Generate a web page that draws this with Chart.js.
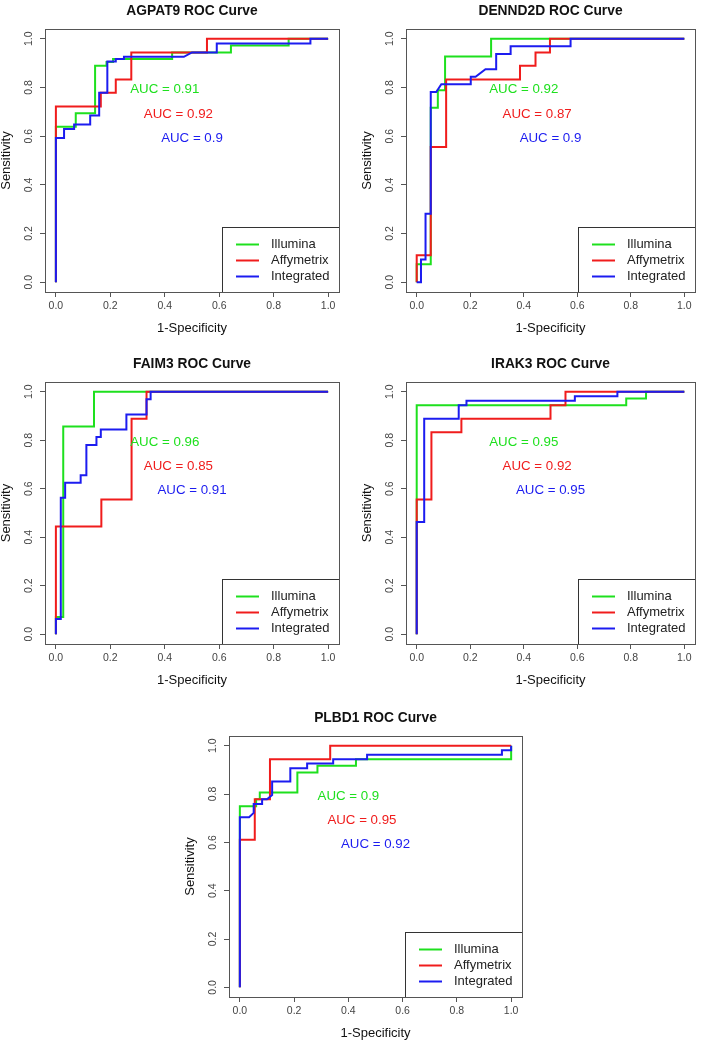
<!DOCTYPE html>
<html>
<head>
<meta charset="utf-8">
<script src="https://cdn.jsdelivr.net/npm/chart.js@4.4.1/dist/chart.umd.min.js"></script>
<style>
  html, body { margin: 0; padding: 0; background: #fff; width: 701px; height: 1049px; overflow: hidden; position: relative; }
  canvas { position: absolute; }
</style>
</head>
<body>
<script>
// ---- data ----
const genes = ['AGPAT9', 'DENND2D', 'FAIM3', 'IRAK3', 'PLBD1'];
const seriesNames = ['Illumina', 'Affymetrix', 'Integrated'];
const axisTicks = [0, 0.2, 0.4, 0.6, 0.8, 1.0];

const aucIllumina   = [0.91, 0.92, 0.96, 0.95, 0.9];
const aucAffymetrix = [0.92, 0.87, 0.85, 0.92, 0.95];
const aucIntegrated = [0.9, 0.9, 0.91, 0.95, 0.92];

// AGPAT9
const agpat9IlluminaFpr = [0, 0, 0.073, 0.073, 0.144, 0.144, 0.186, 0.186, 0.21, 0.21, 0.427, 0.427, 0.643, 0.643, 0.855, 0.855, 1];
const agpat9IlluminaTpr = [0, 0.639, 0.639, 0.694, 0.694, 0.889, 0.889, 0.905, 0.905, 0.917, 0.917, 0.944, 0.944, 0.972, 0.972, 1, 1];
const agpat9AffyFpr = [0, 0, 0.165, 0.165, 0.22, 0.22, 0.277, 0.277, 0.555, 0.555, 1];
const agpat9AffyTpr = [0, 0.722, 0.722, 0.778, 0.778, 0.833, 0.833, 0.944, 0.944, 1, 1];
const agpat9IntegFpr = [0, 0, 0.03, 0.03, 0.067, 0.067, 0.126, 0.126, 0.159, 0.159, 0.189, 0.189, 0.22, 0.22, 0.25, 0.25, 0.47, 0.5, 0.591, 0.591, 0.935, 0.935, 1];
const agpat9IntegTpr = [0, 0.593, 0.593, 0.63, 0.63, 0.648, 0.648, 0.685, 0.685, 0.778, 0.778, 0.907, 0.907, 0.917, 0.917, 0.926, 0.926, 0.944, 0.944, 0.981, 0.981, 1, 1];

// DENND2D
const dennd2dIlluminaFpr = [0, 0, 0.0525, 0.0525, 0.079, 0.079, 0.106, 0.106, 0.278, 0.278, 1];
const dennd2dIlluminaTpr = [0, 0.074, 0.074, 0.717, 0.717, 0.789, 0.789, 0.927, 0.927, 1, 1];
const dennd2dAffyFpr = [0, 0, 0.0525, 0.0525, 0.11, 0.11, 0.386, 0.386, 0.444, 0.444, 0.498, 0.498, 1];
const dennd2dAffyTpr = [0, 0.111, 0.111, 0.556, 0.556, 0.833, 0.833, 0.889, 0.889, 0.944, 0.944, 1, 1];
const dennd2dIntegFpr = [0, 0.016, 0.016, 0.033, 0.033, 0.0525, 0.0525, 0.073, 0.092, 0.202, 0.202, 0.22, 0.257, 0.297, 0.297, 0.351, 0.351, 0.575, 0.575, 1];
const dennd2dIntegTpr = [0, 0, 0.094, 0.094, 0.281, 0.281, 0.781, 0.781, 0.813, 0.813, 0.844, 0.844, 0.875, 0.875, 0.938, 0.938, 0.969, 0.969, 1, 1];

// FAIM3
const faim3IlluminaFpr = [0, 0, 0.027, 0.027, 0.14, 0.14, 1];
const faim3IlluminaTpr = [0, 0.071, 0.071, 0.857, 0.857, 1, 1];
const faim3AffyFpr = [0, 0, 0.167, 0.167, 0.278, 0.278, 0.333, 0.333, 1];
const faim3AffyTpr = [0, 0.444, 0.444, 0.556, 0.556, 0.889, 0.889, 1, 1];
const faim3IntegFpr = [0, 0, 0.018, 0.018, 0.034, 0.034, 0.091, 0.091, 0.112, 0.112, 0.149, 0.149, 0.165, 0.165, 0.259, 0.259, 0.333, 0.333, 0.348, 0.348, 1];
const faim3IntegTpr = [0, 0.063, 0.063, 0.563, 0.563, 0.625, 0.625, 0.656, 0.656, 0.781, 0.781, 0.813, 0.813, 0.844, 0.844, 0.906, 0.906, 0.969, 0.969, 1, 1];

// IRAK3
const irak3IlluminaFpr = [0, 0, 0.783, 0.783, 0.857, 0.857, 1];
const irak3IlluminaTpr = [0, 0.944, 0.944, 0.972, 0.972, 1, 1];
const irak3AffyFpr = [0, 0, 0.055, 0.055, 0.167, 0.167, 0.5, 0.5, 0.556, 0.556, 1];
const irak3AffyTpr = [0, 0.556, 0.556, 0.833, 0.833, 0.889, 0.889, 0.944, 0.944, 1, 1];
const irak3IntegFpr = [0, 0, 0.028, 0.028, 0.157, 0.157, 0.186, 0.186, 0.591, 0.591, 0.75, 0.75, 1];
const irak3IntegTpr = [0, 0.463, 0.463, 0.889, 0.889, 0.944, 0.944, 0.963, 0.963, 0.981, 0.981, 1, 1];

// PLBD1
const plbd1IlluminaFpr = [0, 0, 0.06, 0.06, 0.0735, 0.0735, 0.212, 0.212, 0.286, 0.286, 0.428, 0.428, 1, 1];
const plbd1IlluminaTpr = [0, 0.75, 0.75, 0.778, 0.778, 0.806, 0.806, 0.889, 0.889, 0.917, 0.917, 0.944, 0.944, 1];
const plbd1AffyFpr = [0, 0, 0.055, 0.055, 0.111, 0.111, 0.333, 0.333, 1];
const plbd1AffyTpr = [0, 0.611, 0.611, 0.778, 0.778, 0.944, 0.944, 1, 1];
const plbd1IntegFpr = [0, 0, 0.034, 0.051, 0.051, 0.082, 0.082, 0.1, 0.119, 0.119, 0.186, 0.186, 0.248, 0.248, 0.344, 0.344, 0.469, 0.469, 0.966, 0.966, 1, 1];
const plbd1IntegTpr = [0, 0.704, 0.704, 0.722, 0.759, 0.759, 0.778, 0.778, 0.796, 0.852, 0.852, 0.907, 0.907, 0.926, 0.926, 0.944, 0.944, 0.963, 0.963, 0.981, 0.981, 1];

const curves = [
    [[agpat9IlluminaFpr, agpat9IlluminaTpr], [agpat9AffyFpr, agpat9AffyTpr], [agpat9IntegFpr, agpat9IntegTpr]],
    [[dennd2dIlluminaFpr, dennd2dIlluminaTpr], [dennd2dAffyFpr, dennd2dAffyTpr], [dennd2dIntegFpr, dennd2dIntegTpr]],
    [[faim3IlluminaFpr, faim3IlluminaTpr], [faim3AffyFpr, faim3AffyTpr], [faim3IntegFpr, faim3IntegTpr]],
    [[irak3IlluminaFpr, irak3IlluminaTpr], [irak3AffyFpr, irak3AffyTpr], [irak3IntegFpr, irak3IntegTpr]],
    [[plbd1IlluminaFpr, plbd1IlluminaTpr], [plbd1AffyFpr, plbd1AffyTpr], [plbd1IntegFpr, plbd1IntegTpr]]
];

// ---- styling / layout ----
const FONT = '"Liberation Sans", Arial, sans-serif';
const seriesColors = ['#1ee01e', '#f01c1c', '#1c1cf0'];
const aucPosX = [0.4, 0.45, 0.5];
const aucPosY = [0.8, 0.7, 0.6];

// plot-box rectangles (page pixels) of the five panels
const panelBoxes = [
    { l: 45,  t: 29,  r: 339, b: 292 },
    { l: 406, t: 29,  r: 695, b: 292 },
    { l: 45,  t: 382, r: 339, b: 644 },
    { l: 406, t: 382, r: 695, b: 644 },
    { l: 229, t: 736, r: 522, b: 997 }
];
const M = { l: 50, t: 30, r: 6, b: 50 };

// box, AUC labels and legend, drawn the way base R does them
const rocExtras = {
    id: 'rocExtras',
    afterDatasetsDraw(chart, args, opts) {
        const { ctx, chartArea: a, scales: { x, y } } = chart;
        const L = Math.round(a.left), T = Math.round(a.top), R = Math.round(a.right), B = Math.round(a.bottom);
        ctx.save();

        // AUC texts
        ctx.font = '13.3px ' + FONT;
        ctx.textAlign = 'center';
        ctx.textBaseline = 'middle';
        opts.aucs.forEach((v, k) => {
            ctx.fillStyle = seriesColors[k];
            ctx.fillText('AUC = ' + v, x.getPixelForValue(aucPosX[k]), y.getPixelForValue(aucPosY[k]) + 2);
        });

        // legend (bottom right)
        ctx.font = '13px ' + FONT;
        const maxW = Math.max(...seriesNames.map(s => ctx.measureText(s).width));
        const lw = Math.round(49 + maxW + 9), lh = 65;
        const lx = R - lw, ly = B - lh;
        ctx.fillStyle = '#fff';
        ctx.fillRect(lx, ly, lw, lh);
        ctx.strokeStyle = '#333';
        ctx.lineWidth = 1;
        ctx.strokeRect(lx + 0.5, ly + 0.5, lw, lh);
        ctx.textAlign = 'left';
        seriesNames.forEach((name, k) => {
            const yy = ly + 17.5 + k * 16;
            ctx.strokeStyle = seriesColors[k];
            ctx.lineWidth = 2;
            ctx.beginPath();
            ctx.moveTo(lx + 14, yy);
            ctx.lineTo(lx + 37, yy);
            ctx.stroke();
            ctx.fillStyle = '#222';
            ctx.fillText(name, lx + 49, yy);
        });

        // plot box
        ctx.strokeStyle = '#555';
        ctx.lineWidth = 1;
        ctx.strokeRect(L + 0.5, T + 0.5, R - L, B - T);
        ctx.restore();
    }
};

function axisOpts(isY, title) {
    return {
        type: 'linear',
        min: -0.04,
        max: 1.04,
        afterBuildTicks: s => { s.ticks = axisTicks.map(v => ({ value: v })); },
        afterFit: s => { if (isY) s.width = M.l; else s.height = M.b; },
        grid: { drawOnChartArea: false, drawTicks: true, tickLength: 5, color: '#555' },
        border: { display: false },
        ticks: {
            color: '#444',
            font: { family: FONT, size: 10.5 },
            padding: isY ? 3.5 : 3,
            autoSkip: false,
            minRotation: isY ? 90 : 0,
            maxRotation: isY ? 90 : 0,
            crossAlign: isY ? 'center' : 'near',
            callback: v => Number(v).toFixed(1)
        },
        title: {
            display: true,
            text: title,
            color: '#111',
            font: { family: FONT, size: 13 },
            padding: isY ? { top: 3.6, bottom: 0 } : { top: 0, bottom: 5.5 }
        }
    };
}

genes.forEach((gene, i) => {
    const box = panelBoxes[i];
    const cv = document.createElement('canvas');
    cv.width = box.r - box.l + M.l + M.r;
    cv.height = box.b - box.t + M.t + M.b;
    cv.style.left = (box.l - M.l) + 'px';
    cv.style.top = (box.t - M.t) + 'px';
    document.body.appendChild(cv);

    const aucs = [aucIllumina[i], aucAffymetrix[i], aucIntegrated[i]];

    new Chart(cv, {
        type: 'scatter',
        data: {
            datasets: curves[i].map(([fpr, tpr], k) => ({
                label: seriesNames[k],
                data: fpr.map((xv, j) => ({ x: xv, y: tpr[j] })),
                showLine: true,
                borderColor: seriesColors[k],
                backgroundColor: seriesColors[k],
                borderWidth: 2,
                pointRadius: 0,
                pointHoverRadius: 0,
                tension: 0,
                order: 3 - k
            }))
        },
        options: {
            responsive: false,
            animation: false,
            events: [],
            layout: { padding: { top: 0, right: M.r, bottom: 0, left: 0 } },
            plugins: {
                legend: { display: false },
                tooltip: { enabled: false },
                title: {
                    display: true,
                    text: gene + ' ROC Curve',
                    fullSize: false,
                    color: '#111',
                    font: { family: FONT, size: 13.8, weight: 'bold' },
                    padding: { top: 3.5, bottom: 10 }
                },
                rocExtras: { aucs: aucs }
            },
            scales: {
                x: axisOpts(false, '1-Specificity'),
                y: axisOpts(true, 'Sensitivity')
            }
        },
        plugins: [rocExtras]
    });
});
</script>
</body>
</html>
